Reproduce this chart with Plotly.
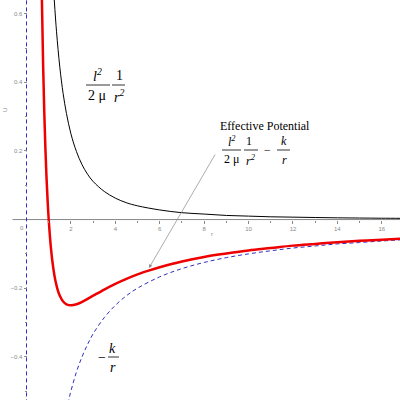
import plotly.graph_objects as go

# values
r_kin = [1.25, 1.35, 1.5, 1.65, 1.8, 2, 2.25, 2.5, 2.75, 3, 3.5, 4, 4.5, 5, 6, 7, 8,
         9, 10, 11, 12, 13, 14, 15, 16, 16.9]
u_kin = [0.64, 0.549, 0.444, 0.367, 0.309, 0.25, 0.198, 0.16, 0.132, 0.111, 0.082,
         0.0625, 0.049, 0.04, 0.028, 0.02, 0.016, 0.012, 0.01, 0.008, 0.007, 0.006,
         0.005, 0.0044, 0.0039, 0.0035]

r_eff = [0.69, 0.75, 0.8, 0.85, 0.9, 0.95, 1.0, 1.1, 1.2, 1.3, 1.4, 1.5, 1.65, 1.8,
         2.0, 2.25, 2.5, 2.75, 3, 3.5, 4, 4.5, 5, 5.5, 6, 7, 8, 9, 10, 11, 12, 13, 14,
         15, 16, 16.9]
u_eff = [0.651, 0.444, 0.3125, 0.208, 0.123, 0.056, 0.0, -0.083, -0.139, -0.178,
         -0.204, -0.222, -0.239, -0.247, -0.25, -0.247, -0.24, -0.231, -0.222, -0.204,
         -0.1875, -0.173, -0.16, -0.149, -0.139, -0.122, -0.109, -0.099, -0.09, -0.083,
         -0.076, -0.071, -0.066, -0.062, -0.059, -0.056]

# -k/r, plus the jump across r = 0
r_jump = [0, 0]
u_jump = [0.7, -0.6]
r_pot = [1.8, 1.9, 2, 2.25, 2.5, 2.75, 3, 3.5, 4, 4.5, 5, 6, 7, 8,
         9, 10, 11, 12, 13, 14, 15, 16, 16.9]
u_pot = [-0.556, -0.526, -0.5, -0.444, -0.4, -0.364, -0.333, -0.286,
         -0.25, -0.222, -0.2, -0.167, -0.143, -0.125, -0.111, -0.1, -0.091, -0.083,
         -0.077, -0.071, -0.067, -0.0625, -0.059]

x_ticks = [2, 4, 6, 8, 10, 12, 14, 16]
y_ticks = [-0.4, -0.2, 0.2, 0.4, 0.6]

XR = [-1.194, 16.82]
YR = [-0.526, 0.64]
W = H = 400

def px(x, y):
    return x / W, 1 - y / H

blue = '#3030c0'
fig = go.Figure()
fig.add_trace(go.Scatter(x=r_jump, y=u_jump, mode='lines',
                         line=dict(color=blue, width=1, dash='4px,3px')))
fig.add_trace(go.Scatter(x=r_pot, y=u_pot, mode='lines', line_shape='spline',
                         line=dict(color=blue, width=1, dash='4px,3px')))
fig.add_trace(go.Scatter(x=r_kin, y=u_kin, mode='lines', line_shape='spline',
                         line=dict(color='black', width=1)))
fig.add_trace(go.Scatter(x=r_eff, y=u_eff, mode='lines', line_shape='spline',
                         line=dict(color='#ee0000', width=2.5)))

ax_pos_x = (0 - YR[0]) / (YR[1] - YR[0])
ax_pos_y = (0 - XR[0]) / (XR[1] - XR[0])
tickfont = dict(family='Liberation Sans', size=6, color='#888888')

fig.update_layout(
    width=W, height=H, margin=dict(l=0, r=0, t=0, b=0),
    plot_bgcolor='white', paper_bgcolor='white', showlegend=False,
    xaxis=dict(range=XR, anchor='free', position=ax_pos_x, showgrid=False,
               zeroline=False, showline=False, tickvals=x_ticks, ticks='outside',
               ticklen=3, tickcolor='#888888', tickfont=tickfont,
               minor=dict(tickvals=[1, 3, 5, 7, 9, 11, 13, 15], ticks='outside',
                          ticklen=2, tickcolor='#888888')),
    yaxis=dict(range=YR, anchor='free', position=ax_pos_y, showgrid=False,
               zeroline=False, showline=False, tickvals=y_ticks, ticks='outside',
               ticklen=3, tickcolor='#888888', tickfont=tickfont,
               tickformat='.1f',
               minor=dict(tickvals=[-0.5, -0.3, -0.1, 0.1, 0.3, 0.5], ticks='outside',
                          ticklen=2, tickcolor='#888888')),
)

# axis lines
fig.add_shape(type='line', xref='x', yref='y', x0=-0.63, x1=XR[1], y0=0, y1=0,
              line=dict(color='#888888', width=1), layer='below')

def text(x, y, s, size=14, italic=False, color='black', angle=0, family='Liberation Serif'):
    X, Y = px(x, y)
    if italic:
        s = '<i>' + s + '</i>'
    fig.add_annotation(x=X, y=Y, xref='paper', yref='paper', text=s, showarrow=False,
                       font=dict(family=family, size=size, color=color),
                       xanchor='center', yanchor='middle', textangle=angle)

def bar(x0, x1, y):
    X0, Y = px(x0, y)
    X1, _ = px(x1, y)
    fig.add_shape(type='line', xref='paper', yref='paper', x0=X0, x1=X1, y0=Y, y1=Y,
                  line=dict(color='black', width=0.8))

text(22, 228, '0', size=6, color='#888888', family='Liberation Sans')
text(212, 234, 'r', size=6, color='#888888', family='Liberation Sans')
text(5, 110, 'U', size=6, color='#888888', family='Liberation Sans', angle=-90)

# l^2/(2 mu) 1/r^2
text(97, 75, 'l<sup>2</sup>', size=14, italic=True)
bar(86, 110, 85)
text(97, 95, '2 μ', size=14)
text(119, 75, '1', size=14)
bar(112, 125, 85)
text(119, 96, 'r<sup>2</sup>', size=14, italic=True)

# effective potential
text(265, 126, 'Effective Potential', size=12)
text(232, 141, 'l<sup>2</sup>', size=12, italic=True)
bar(222, 241, 150)
text(232, 159, '2 μ', size=12)
text(249, 141, '1', size=12)
bar(244, 258, 150)
text(251, 160, 'r<sup>2</sup>', size=12, italic=True)
text(267, 150, '−', size=12)
bar(277, 290, 150)
text(284, 141, 'k', size=12, italic=True)
text(284, 160, 'r', size=12, italic=True)

# -k/r
text(102, 357, '−', size=14)
bar(108, 119, 357)
text(113, 348, 'k', size=14, italic=True)
text(113, 367, 'r', size=14, italic=True)

# arrow
HX, HY = px(149, 268)
fig.add_annotation(x=HX, y=HY, xref='paper', yref='paper', text='', showarrow=True,
                   ax=67, ay=-115, arrowhead=2, arrowsize=1, arrowwidth=0.7,
                   arrowcolor='#888888')

fig.write_html("out.html", config={'displayModeBar': False},
               post_script="document.body.style.margin='0';")
